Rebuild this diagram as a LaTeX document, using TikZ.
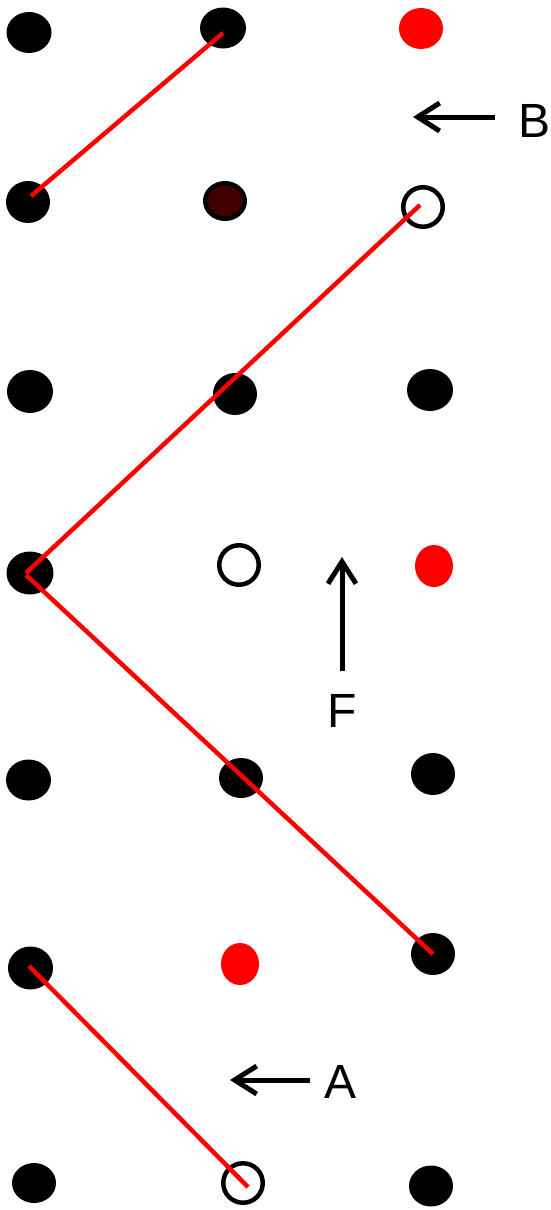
\documentclass[tikz,border=0pt]{standalone}
\usepackage{fontspec}
\setmainfont{Liberation Sans}
\usetikzlibrary{shapes.geometric,arrows.meta}
\definecolor{darkbrown}{HTML}{400000}
\begin{document}
\begin{tikzpicture}[x=1pt,y=-1pt,
  dotb/.style={ellipse,fill=black,inner sep=0,minimum width=45pt,minimum height=41pt},
  dotr/.style={ellipse,fill=red,inner sep=0,minimum width=44pt,minimum height=41pt},
  dotbr/.style={ellipse,fill=darkbrown,draw=black,line width=4.5pt,inner sep=0,minimum width=39.5pt,minimum height=35.5pt},
  hole/.style={ellipse,fill=white,draw=black,line width=4.5pt,inner sep=0,minimum width=39.5pt,minimum height=39.5pt},
  bond/.style={red,line width=4.5pt},
  force/.style={black,line width=5pt,-{Straight Barb[length=22pt,width=28pt]}},
  lbl/.style={inner sep=0,font=\fontsize{48}{58}\selectfont}]
\useasboundingbox (0,0) rectangle (551,1210);
% row 1
\node[dotb] (a11) at (29,32.5) {};
\node[dotb,minimum width=46pt] (a12) at (223,28) {};
\node[dotr] (a13) at (421,28.5) {};
% row 2
\node[dotb,minimum width=44pt,minimum height=42pt] (a21) at (28,202) {};
\node[dotbr] (a22) at (225,201) {};
\node[hole] (a23) at (423,207) {};
% row 3
\node[dotb,minimum width=46pt,minimum height=43pt] (a31) at (30,391.5) {};
\node[dotb,minimum width=44pt,minimum height=42pt] (a32) at (235,394) {};
\node[dotb,minimum width=46pt,minimum height=42pt] (a33) at (430,390) {};
% row 4
\node[dotb,minimum width=47pt,minimum height=43pt] (a41) at (30,573) {};
\node[hole] (a42) at (239,565) {};
\node[dotr,minimum width=38pt,minimum height=42pt] (a43) at (434,566) {};
% row 5
\node[dotb] (a51) at (28.5,780) {};
\node[dotb,minimum width=44pt,minimum height=40pt] (a52) at (241,778) {};
\node[dotb,minimum width=44pt,minimum height=42pt] (a53) at (433,774) {};
% row 6
\node[dotb,minimum width=45pt,minimum height=43pt] (a61) at (30.5,968) {};
\node[dotr,minimum width=38pt,minimum height=42pt] (a62) at (240,964) {};
\node[dotb,minimum width=44pt,minimum height=42pt] (a63) at (433,954) {};
% row 7
\node[dotb,minimum width=44pt,minimum height=40pt] (a71) at (34,1183) {};
\node[hole] (a72) at (243,1183) {};
\node[dotb,minimum width=44pt,minimum height=41pt] (a73) at (431,1186) {};
% red bonds
\draw[bond] ([xshift=3pt,yshift=6pt]a21.center) -- ([yshift=-5pt]a12.center);
\draw[bond] ([xshift=-3pt,yshift=2pt]a23.center) -- ([xshift=-4pt]a41.center);
\draw[bond] ([xshift=-4pt,yshift=-2pt]a41.center) -- (a63.center);
\draw[bond] ([xshift=-1.5pt,yshift=2pt]a61.center) -- ([xshift=5pt,yshift=-4pt]a72.center);
% arrows and labels
\coordinate (Bt) at (495,117);
\coordinate (Bh) at (413,117);
\draw[force] (Bt) -- (Bh);
\node[lbl] (B) at (535,120.5) {B};
\coordinate (Ft) at (342,671);
\coordinate (Fh) at (342,557);
\draw[force] (Ft) -- (Fh);
\node[lbl] (F) at (342.5,711) {F};
\coordinate (At) at (310,1080);
\coordinate (Ah) at (230,1080);
\draw[force] (At) -- (Ah);
\node[lbl] (A) at (340.5,1081.5) {A};
\end{tikzpicture}
\end{document}
